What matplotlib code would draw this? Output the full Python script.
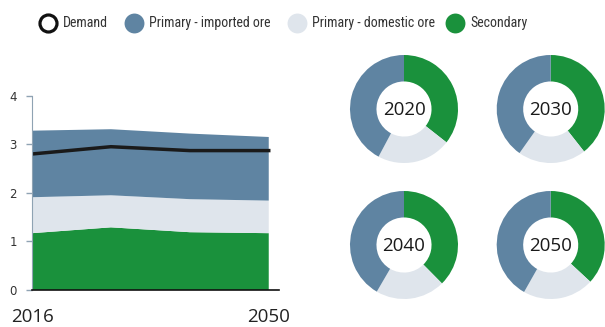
import numpy as np
import matplotlib
matplotlib.use("Agg")
import matplotlib.pyplot as plt

# stacked area: supply by source (left chart)
x_labels = ["2016", "", "", "2050"]
secondary = [1.17, 1.29, 1.19, 1.17]
domestic = [0.74, 0.66, 0.68, 0.67]
imported = [1.37, 1.36, 1.35, 1.31]
demand = [2.80, 2.95, 2.87, 2.87]

# donut shares (%), order: secondary, domestic, imported
donut_years = ["2020", "2030", "2040", "2050"]
donut_secondary = [35.6, 39.4, 37.6, 36.9]
donut_domestic = [22.2, 20.4, 20.8, 21.3]
donut_imported = [42.2, 40.2, 41.6, 41.8]

col_imp = "#5f84a2"
col_dom = "#dfe5ec"
col_sec = "#1a913c"

legend_names = ["Demand", "Primary - imported ore", "Primary - domestic ore", "Secondary"]

W, H = 605, 327
fig = plt.figure(figsize=(W / 100, H / 100), dpi=100)

narrow = ["Roboto Condensed", "Archivo Narrow", "Asap Condensed", "DejaVu Sans"]

# --- area chart
ax = fig.add_axes([32 / W, (H - 290) / H, (279 - 32) / W, (290 - 95.7) / H])
xs = np.arange(len(secondary))
ax.stackplot(xs, secondary, domestic, imported, colors=[col_sec, col_dom, col_imp], lw=0)
ax.plot(xs, demand, color="#1a1a1a", lw=2.5)
ax.set_xlim(0, 3.13)
ax.set_ylim(0, 4)
ax.set_yticks([0, 1, 2, 3, 4])
ax.set_xticks([0, 3])
ax.set_xticklabels([x_labels[0], x_labels[-1]], fontsize=13.5, fontfamily="Open Sans")
ax.tick_params(axis="x", length=0, pad=13, colors="#222222")
ax.tick_params(axis="y", length=4, width=1, color="#8fa3b3", labelsize=8.5, pad=7, labelcolor="#333333")
for s in ["top", "right"]:
    ax.spines[s].set_visible(False)
ax.spines["left"].set_color("#8fa3b3")
ax.spines["bottom"].set_color("#111111")
ax.spines["bottom"].set_linewidth(1.2)

# --- donuts
centers = [(404, 109), (550.7, 109), (404, 245), (550.7, 245)]
r = 54
for i, (cx, cy) in enumerate(centers):
    dax = fig.add_axes([(cx - r) / W, (H - cy - r) / H, 2 * r / W, 2 * r / H])
    dax.pie([donut_secondary[i], donut_domestic[i], donut_imported[i]],
            colors=[col_sec, col_dom, col_imp], startangle=90, counterclock=False,
            radius=1, wedgeprops=dict(width=0.49, linewidth=0))
    dax.set_xlim(-1, 1)
    dax.set_ylim(-1, 1)
    dax.text(0, -0.02, donut_years[i], ha="center", va="center", fontsize=13.5,
             fontfamily="Open Sans", color="#1a1a1a")
    dax.set_axis_off()

# --- legend row
lax = fig.add_axes([0, 0, 1, 1])
lax.set_xlim(0, W)
lax.set_ylim(H, 0)
lax.set_axis_off()
leg_x = [48, 134, 297, 455]
leg_face = ["white", col_imp, col_dom, col_sec]
leg_edge = ["#111111", col_imp, col_dom, col_sec]
for i in range(4):
    lax.scatter([leg_x[i]], [23], s=205 if i else 150, facecolor=leg_face[i],
                edgecolor=leg_edge[i], linewidth=2.3 if i == 0 else 0)
    lax.text(leg_x[i] + 15, 23, legend_names[i], ha="left", va="center",
             fontsize=10, family=narrow, color="#333333")

fig.savefig("out.png", dpi=100)
